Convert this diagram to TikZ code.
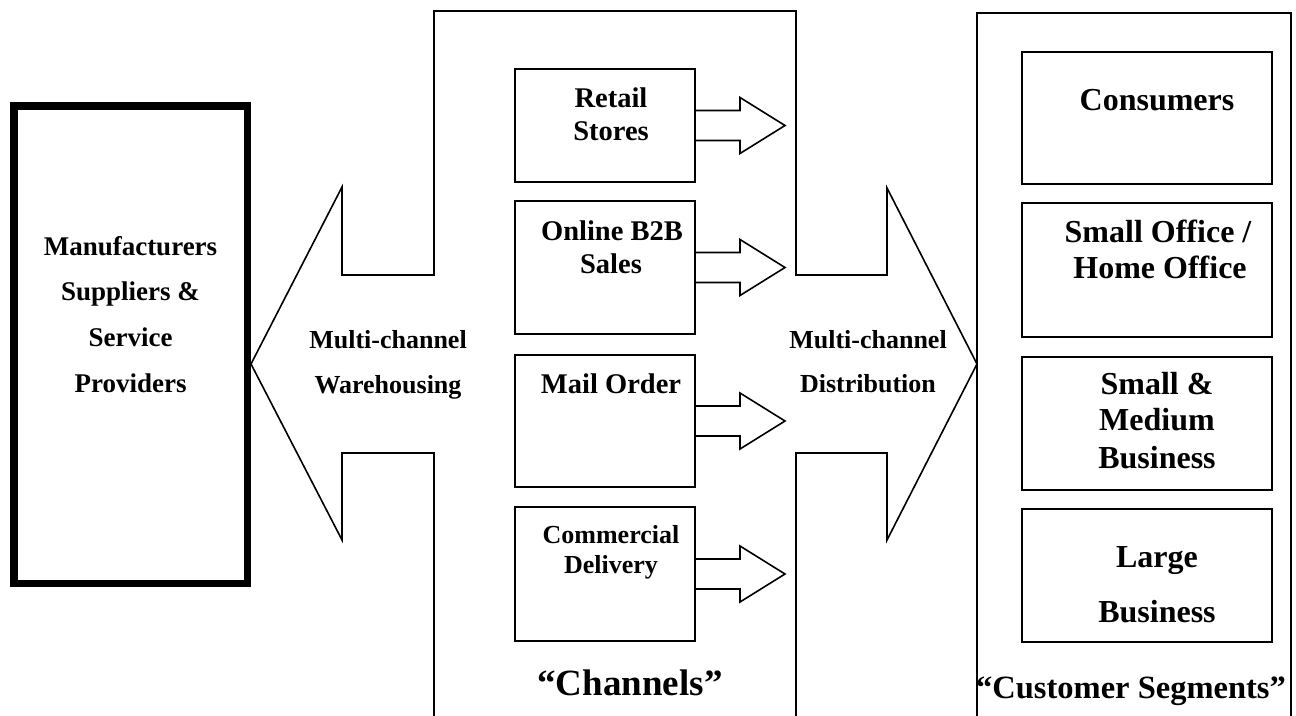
\documentclass[tikz,border=0pt]{standalone}
\usepackage{fontspec}
\setmainfont{Liberation Serif}
\usetikzlibrary{calc}
\begin{document}
\begin{tikzpicture}[x=1pt,y=-1pt,
  thinline/.style={line width=1.6pt,line join=miter},
  chbox/.style={draw,line width=1.6pt,inner sep=0pt,outer sep=0pt,minimum width=180pt},
  segbox/.style={draw,line width=1.9pt,inner sep=0pt,outer sep=0pt,minimum width=250pt},
  txt/.style={anchor=base,inner sep=0pt,font=\bfseries\fontsize{#1}{#1}\selectfont}]
\useasboundingbox (0,0) rectangle (1296,715);

% suppliers block
\node[draw,line width=7.5pt,inner sep=0pt,outer sep=0pt,minimum width=233.5pt,minimum height=477.5pt] (maker) at (130.5,344.5) {};
\node[txt=27] (m1) at (130.5,255) {Manufacturers};
\node[txt=27] (m2) at (130.5,300) {Suppliers \&};
\node[txt=27] (m3) at (130.5,346) {Service};
\node[txt=27] (m4) at (130.5,392) {Providers};

% double block arrow framing the channel column
\draw[thinline] (434,716) -- (434,453) -- (342,453) -- (342,540) -- (251,364)
  -- (342,187) -- (342,275) -- (434,275) -- (434,11) -- (796,11) -- (796,275)
  -- (887,275) -- (887,188) -- (977,364) -- (887,540) -- (887,453) -- (796,453) -- (796,716);
\node[txt=26] (w1) at (388,348) {Multi-channel};
\node[txt=26] (w2) at (388,393) {Warehousing};
\node[txt=26] (d1) at (868,348) {Multi-channel};
\node[txt=26] (d2) at (868,392) {Distribution};

% channels
\node[chbox,minimum height=113pt] (retail) at (605,125.5) {};
\node[chbox,minimum height=133pt] (online) at (605,267.5) {};
\node[chbox,minimum height=132pt] (mail) at (605,421) {};
\node[chbox,minimum height=134pt] (commercial) at (605,574) {};
\node[txt=28.5] (r1) at (611,107) {Retail};
\node[txt=28.5] (r2) at (611,140) {Stores};
\node[txt=28.5] (o1) at (612,240) {Online B2B};
\node[txt=28.5] (o2) at (611,273) {Sales};
\node[txt=28.5] (ma) at (611,393) {Mail Order};
\node[txt=26] (c1) at (611,543) {Commercial};
\node[txt=26] (c2) at (611,573) {Delivery};
\node[txt=37] (chan) at (630,695) {“Channels”};

\foreach \b in {retail,online,mail,commercial}{
  \draw[thinline] ($(\b.east)+(0,-15)$) -- ++(45,0) -- ++(0,-13)
    -- ($(\b.east)+(90,0)$) -- ($(\b.east)+(45,28)$) -- ++(0,-13)
    -- ($(\b.east)+(0,15)$);
}

% customer segments
\draw[thinline] (977,716) -- (977,13) -- (1291,13) -- (1291,716);
\node[segbox,minimum height=132pt] (cons) at (1147,118) {};
\node[segbox,minimum height=134pt] (soho) at (1147,270) {};
\node[segbox,minimum height=133pt] (smb) at (1147,423.5) {};
\node[segbox,minimum height=133pt] (large) at (1147,575.5) {};
\node[txt=32] (s1) at (1157,110) {Consumers};
\node[txt=32] (s2) at (1158,242) {Small Office /};
\node[txt=32] (s3) at (1160,278) {Home Office};
\node[txt=32] (s4) at (1157,394) {Small \&};
\node[txt=32] (s5) at (1157,430) {Medium};
\node[txt=32] (s6) at (1157,468) {Business};
\node[txt=32] (s7) at (1157,567) {Large};
\node[txt=32] (s8) at (1157,622) {Business};
\node[txt=32.5] (seg) at (1131,698) {“Customer Segments”};
\end{tikzpicture}
\end{document}
